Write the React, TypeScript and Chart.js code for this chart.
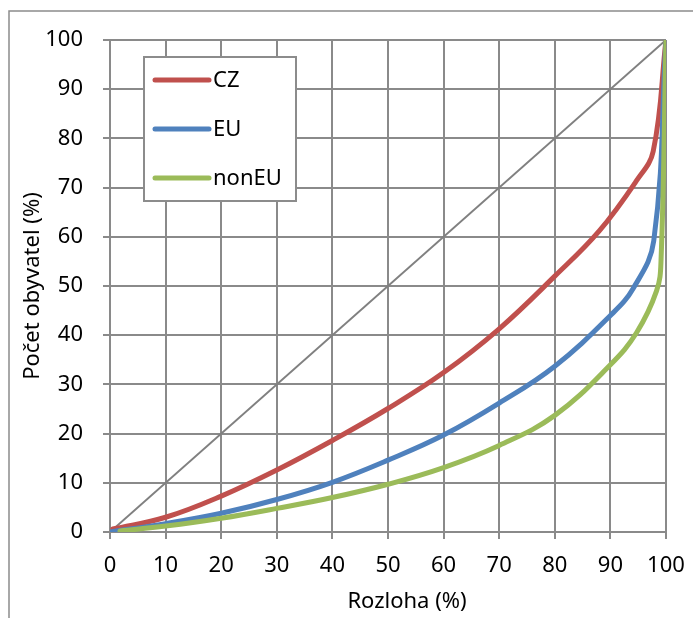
import React, { useEffect, useRef } from "react";
import { Chart, registerables } from "chart.js";

Chart.register(...registerables);

const seriesNames = ["CZ", "EU", "nonEU"];
const seriesColors = ["#C0504D", "#4F81BD", "#9BBB59"];

const czX = [0.5, 10, 20, 30, 40, 50, 60, 70, 80, 88, 94.7, 97.7, 100];
const czY = [0.6, 3.0, 7.3, 12.6, 18.6, 25.1, 32.4, 41.3, 52.0, 61.2, 71.4, 77.4, 100];

const euX = [0, 10, 20, 30, 40, 50, 60, 70, 80, 90, 94.1, 97.8, 100];
const euY = [0, 1.7, 3.8, 6.6, 10.1, 14.6, 19.7, 26.2, 33.7, 44.0, 49.5, 59.2, 100];

const nonEuX = [1.8, 10, 20, 30, 40, 50, 60, 70, 80, 90, 94.7, 98.3, 99.1, 100];
const nonEuY = [0.2, 1.2, 2.8, 4.8, 7.0, 9.7, 13.1, 17.6, 23.7, 34.0, 40.5, 49.0, 55.0, 100];

const diagX = [0, 100];
const diagY = [0, 100];

const xTitle = "Rozloha (%)";
const yTitle = "Počet obyvatel (%)";

const FONT = "'Noto Sans', sans-serif";

const toPts = (xs: number[], ys: number[]) => xs.map((x, i) => ({ x, y: ys[i] }));

export default function App() {
  const ref = useRef<HTMLCanvasElement | null>(null);

  useEffect(() => {
    document.body.style.margin = "0";
    if (!ref.current) return;

    const frameAndLegend = {
      id: "frameAndLegend",
      beforeDraw(chart: any) {
        const ctx = chart.ctx;
        ctx.save();
        ctx.strokeStyle = "#8c8c8c";
        ctx.lineWidth = 1.5;
        ctx.beginPath();
        ctx.moveTo(9, 618);
        ctx.lineTo(9, 11);
        ctx.lineTo(693, 11);
        ctx.stroke();
        ctx.fillStyle = "#000000";
        ctx.font = `22px ${FONT}`;
        ctx.textBaseline = "middle";
        ctx.textAlign = "center";
        ctx.fillText(xTitle, 407, 602);
        ctx.restore();
      },
      afterDraw(chart: any) {
        const ctx = chart.ctx;
        ctx.save();
        ctx.fillStyle = "#ffffff";
        ctx.fillRect(144, 57, 152, 144);
        ctx.strokeStyle = "#8c8c8c";
        ctx.lineWidth = 2;
        ctx.strokeRect(144, 57, 152, 144);
        const rows = [80, 129, 178];
        const ds = chart.data.datasets.filter((d: any) => seriesNames.includes(d.label));
        ds.forEach((d: any, i: number) => {
          ctx.strokeStyle = d.borderColor;
          ctx.lineWidth = 5;
          ctx.lineCap = "round";
          ctx.beginPath();
          ctx.moveTo(155, rows[i]);
          ctx.lineTo(209, rows[i]);
          ctx.stroke();
          ctx.fillStyle = "#000000";
          ctx.font = `22px ${FONT}`;
          ctx.textBaseline = "middle";
          ctx.textAlign = "left";
          ctx.fillText(d.label, 213, rows[i] + 1);
        });
        ctx.restore();
      },
    };

    const curve = (i: number, xs: number[], ys: number[], order: number) => ({
      label: seriesNames[i],
      data: toPts(xs, ys),
      borderColor: seriesColors[i],
      borderWidth: 5,
      pointRadius: 0,
      tension: 0.4,
      borderCapStyle: "round",
      borderJoinStyle: "round",
      order,
    });

    const chart = new Chart(ref.current, {
      type: "line",
      data: {
        datasets: [
          {
            label: "diag",
            data: toPts(diagX, diagY),
            borderColor: "#808080",
            borderWidth: 2,
            pointRadius: 0,
            order: 4,
          },
          curve(0, czX, czY, 3),
          curve(1, euX, euY, 2),
          curve(2, nonEuX, nonEuY, 1),
        ],
      },
      options: {
        animation: false,
        responsive: false,
        maintainAspectRatio: false,
        layout: { padding: { left: 0, right: 27, top: 40, bottom: 0 } },
        plugins: {
          legend: { display: false },
          tooltip: { enabled: false },
        },
        scales: {
          x: {
            type: "linear",
            min: 0,
            max: 100,
            ticks: {
              stepSize: 10,
              color: "#000",
              font: { family: FONT, size: 22 },
              padding: 14,
              maxRotation: 0,
            },
            grid: { color: "#8a8a8a", lineWidth: 2, tickLength: 7 },
            border: { color: "#8a8a8a", width: 2 },
            afterFit(scale: any) {
              scale.height = 86;
              scale.paddingRight = 0;
              scale.paddingLeft = 0;
            },
          },
          y: {
            type: "linear",
            min: 0,
            max: 100,
            ticks: {
              stepSize: 10,
              color: "#000",
              font: { family: FONT, size: 22 },
              padding: 20,
            },
            grid: { color: "#8a8a8a", lineWidth: 2, tickLength: 7 },
            border: { color: "#8a8a8a", width: 2 },
            title: {
              display: true,
              text: yTitle,
              color: "#000",
              font: { family: FONT, size: 22 },
              padding: { top: 20, bottom: 0 },
            },
            afterFit(scale: any) {
              scale.width = 110;
              scale.paddingTop = 0;
              scale.paddingBottom = 0;
            },
          },
        },
      },
      plugins: [frameAndLegend],
    });

    return () => chart.destroy();
  }, []);

  return (
    <div style={{ position: "absolute", left: 0, top: 0, width: 693, height: 618, background: "#fff" }}>
      <canvas ref={ref} width={693} height={618} style={{ width: 693, height: 618 }} />
    </div>
  );
}
